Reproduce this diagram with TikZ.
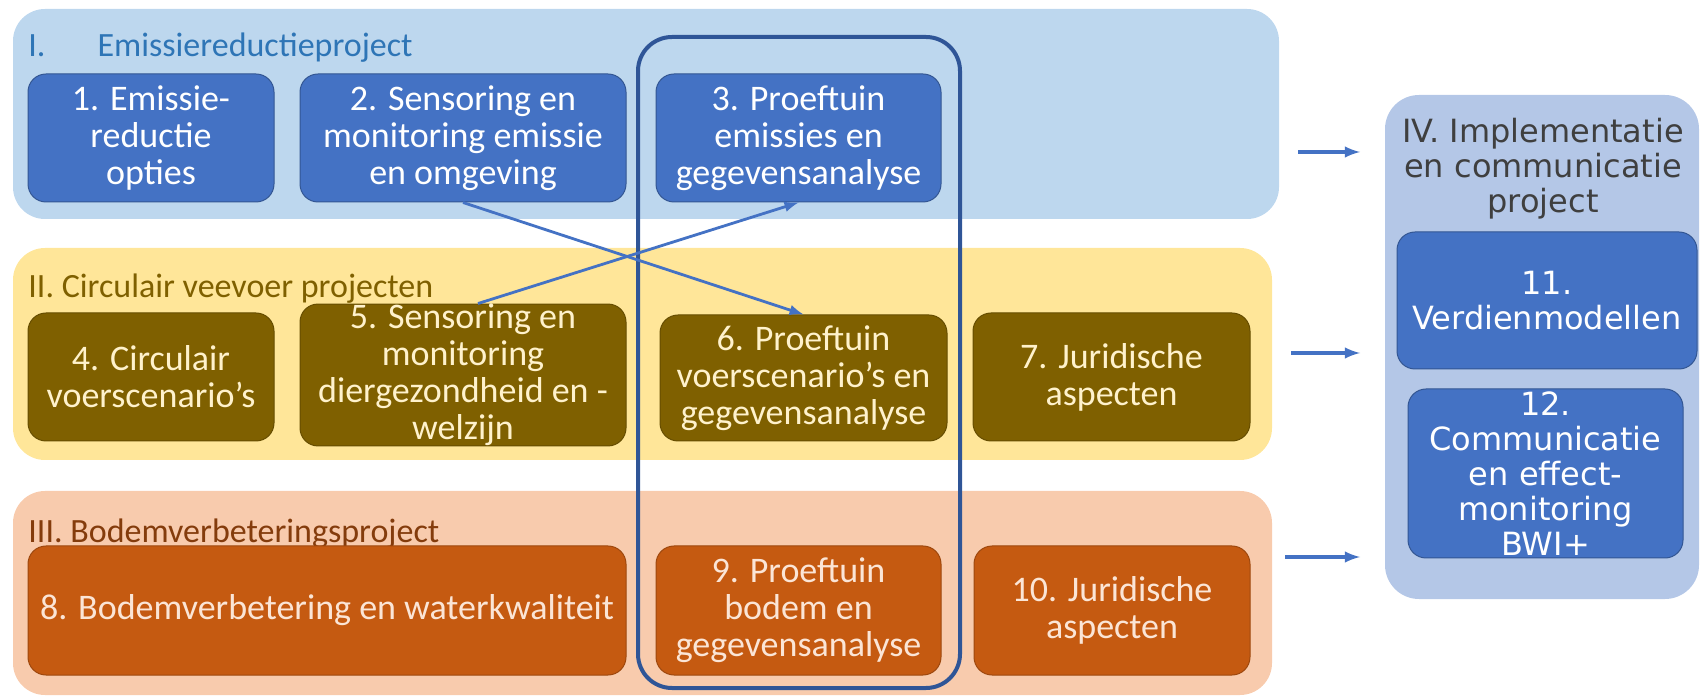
\documentclass[tikz,border=0pt]{standalone}
\usepackage{fontspec}
\setmainfont{Carlito}
\newfontfamily\ivfont{DejaVu Sans}
\usepackage{xcolor}
\usetikzlibrary{arrows,positioning}

\definecolor{bandblue}{HTML}{BDD7EE}
\definecolor{bandyellow}{HTML}{FFE699}
\definecolor{bandpeach}{HTML}{F8CBAD}
\definecolor{panelgrey}{HTML}{B4C7E7}
\definecolor{boxblue}{HTML}{4472C4}
\definecolor{boxolive}{HTML}{7F6000}
\definecolor{boxrust}{HTML}{C55A11}
\definecolor{trialblue}{HTML}{2F5597}
\definecolor{titleblue}{HTML}{2E75B6}
\definecolor{titlebrown}{HTML}{843C0C}
\definecolor{ivgrey}{HTML}{3F3F3F}
\definecolor{cream}{HTML}{FFF2CC}
\definecolor{rustcream}{HTML}{FBE5D6}

\begin{document}
\begin{tikzpicture}[
  x=0.5pt, y=-0.5pt,
  font=\fontsize{17}{17.5}\selectfont,
  band/.style={rounded corners=16pt, inner sep=0pt},
  box/.style={rounded corners=9pt, align=center, inner sep=0pt, line width=0.5pt, font=\fontsize{18}{18.5}\selectfont},
  bluebox/.style={box, fill=boxblue, draw=boxblue!75!black, text=white},
  olivebox/.style={box, fill=boxolive, draw=boxolive!80!black, text=cream},
  rustbox/.style={box, fill=boxrust, draw=boxrust!80!black, text=rustcream},
  ivtext/.style={font=\ivfont\fontsize{16}{17.5}\selectfont},
  title/.style={anchor=west, inner sep=0pt},
  arrow/.style={->, >=latex, line width=1.4pt, draw=boxblue},
]
\useasboundingbox (0,0) rectangle (1702,699);

\node[band, fill=bandblue, minimum width=633pt, minimum height=105pt] (bandI) at (646,114) {};
\node[band, fill=bandyellow, minimum width=629.5pt, minimum height=106pt] (bandII) at (642.5,354) {};
\node[band, fill=bandpeach, minimum width=629.5pt, minimum height=102pt] (bandIII) at (642.5,593) {};
\node[band, rounded corners=17pt, fill=panelgrey, minimum width=157pt, minimum height=252pt] (panelIV) at (1542,347) {};

\node[title, text=titleblue] (titleI) at (28,48) {I.\hspace{26pt}Emissiereductieproject};
\node[title, text=boxolive] (titleII) at (28,289) {II. Circulair veevoer projecten};
\node[title, text=titlebrown] (titleIII) at (28,534) {III. Bodemverbeteringsproject};
\node[ivtext, align=center, text=ivgrey] (titleIV) at (1543,169) {IV. Implementatie\\en communicatie\\project};

\node[bluebox, minimum width=123pt, minimum height=64pt] (box1) at (151,138) {1. Emissie-\\reductie\\opties};
\node[bluebox, minimum width=163pt, minimum height=64pt] (box2) at (463,138) {2. Sensoring en\\monitoring emissie\\en omgeving};
\node[bluebox, minimum width=142.5pt, minimum height=64pt] (box3) at (798.5,138) {3. Proeftuin\\emissies en\\gegevensanalyse};

\node[olivebox, minimum width=123pt, minimum height=64pt] (box4) at (151,377) {4. Circulair\\voerscenario’s};
\node[olivebox, minimum width=163pt, minimum height=64pt] (box5) at (463,375) {5. Sensoring en\\monitoring\\diergezondheid en -\\welzijn};
\node[olivebox, minimum width=143.5pt, minimum height=63pt] (box6) at (803.5,378) {6. Proeftuin\\voerscenario’s en\\gegevensanalyse};
\node[olivebox, minimum width=138.5pt, minimum height=64pt] (box7) at (1111.5,377) {7. Juridische\\aspecten};

\node[rustbox, minimum width=299pt, minimum height=64.5pt] (box8) at (327,610.5) {8. Bodemverbetering en waterkwaliteit};
\node[rustbox, minimum width=142.5pt, minimum height=64.5pt] (box9) at (798.5,610.5) {9. Proeftuin\\bodem en\\gegevensanalyse};
\node[rustbox, minimum width=138pt, minimum height=64.5pt] (box10) at (1112,610.5) {10. Juridische\\aspecten};

\node[bluebox, ivtext, minimum width=150pt, minimum height=68.5pt] (box11) at (1547,300.5) {11.\\Verdienmodellen};
\node[bluebox, ivtext, minimum width=137.5pt, minimum height=84.5pt] (box12) at (1545.5,473.5) {12.\\Communicatie\\en effect-\\monitoring\\BWI+};

\node[draw=trialblue, line width=2pt, rounded corners=17pt, minimum width=161pt, minimum height=325.5pt] (trial) at (799,362.5) {};

\draw[arrow] (box2.south) -- (box6.north);
\draw[arrow] ([xshift=7.5pt]box5.north) -- (box3.south);

\foreach \n/\xs/\y in {I/1298/152, II/1291/353, III/1285/557} {
  \coordinate (from\n) at (\xs,\y);
  \coordinate (to\n) at (1360,\y);
  \draw[arrow, line width=1.6pt] (from\n) -- (to\n);
}

\end{tikzpicture}
\end{document}
